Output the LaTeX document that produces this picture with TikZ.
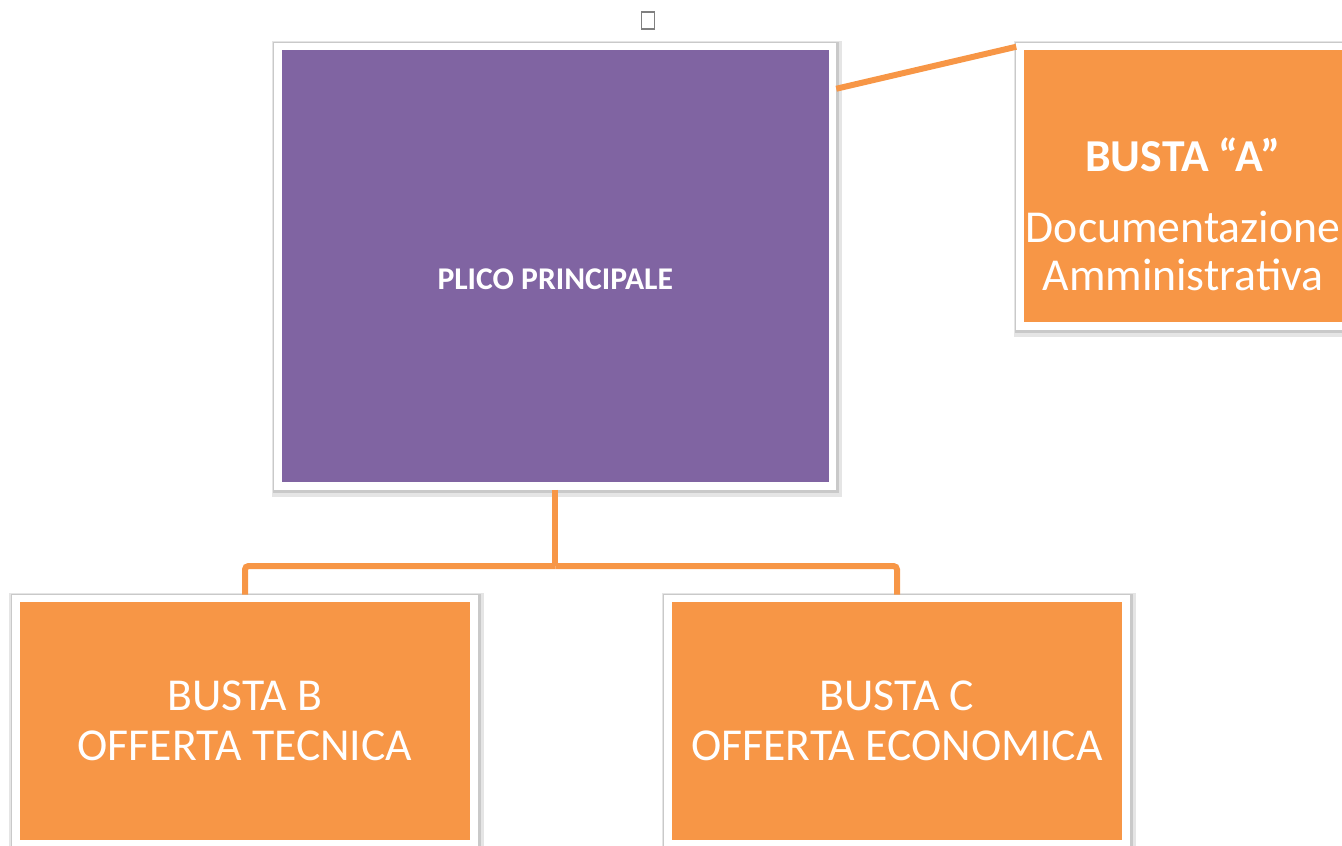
\documentclass[tikz,border=0pt]{standalone}
\usepackage{fontspec}
\setmainfont{Carlito}
\usepackage{tikz}
\usetikzlibrary{calc,positioning}
\definecolor{plicoviola}{RGB}{128,100,162}
\definecolor{bustaarancio}{RGB}{247,150,70}

\begin{document}
\begin{tikzpicture}[box/.style={rectangle,draw=white,line width=0.15cm,text=white,align=center,
        preaction={draw=black,draw opacity=0.1,line width=0.32cm,transform canvas={xshift=0.03cm,yshift=-0.05cm}},
        preaction={draw=black,draw opacity=0.12,line width=0.23cm,transform canvas={xshift=0.02cm,yshift=-0.03cm}}},
      lab/.style={text=white,align=center},
      conn/.style={draw=bustaarancio,line width=0.12cm,rounded corners=2pt}]
      \clip (0,0) rectangle (26.84,-16.92);
      \node[draw=gray,line width=0.6pt,minimum width=0.26cm,minimum height=0.34cm,inner sep=0pt] (glyph) at (12.96,-0.41) {};

      \node[box,fill=plicoviola,minimum width=11.09cm,minimum height=8.79cm,
        label={[lab,yshift=-0.26cm,font=\bfseries\fontsize{18}{20}\selectfont]center:PLICO PRINCIPALE}] (plico) at (11.105,-5.325) {};
      \node[box,fill=bustaarancio,minimum width=6.52cm,minimum height=5.59cm,
        label={[lab,yshift=-0.56cm,font=\fontsize{26}{27}\selectfont]center:{{\bfseries BUSTA “A”}\\[0.47cm]Documentazione\\Amministrativa}}] (bustaa) at (23.66,-3.725) {};
      \node[box,fill=bustaarancio,minimum width=9.16cm,minimum height=4.905cm,font=\fontsize{26}{28.4}\selectfont] (bustab) at (4.9,-14.42) {BUSTA B\\OFFERTA TECNICA};
      \node[box,fill=bustaarancio,minimum width=9.16cm,minimum height=4.905cm,font=\fontsize{26}{28.4}\selectfont] (bustac) at (17.94,-14.42) {BUSTA C\\OFFERTA ECONOMICA};

      \coordinate (split) at (11.105,-11.32);
      \draw[conn] (plico.south) -- (split);
      \draw[conn] (split) -| (bustab.north);
      \draw[conn] (split) -| (bustac.north);
      \draw[conn] ($(plico.north east)+(0,-0.92)$) -- ($(bustaa.north west)+(0,-0.08)$);
    \end{tikzpicture}
\end{document}
